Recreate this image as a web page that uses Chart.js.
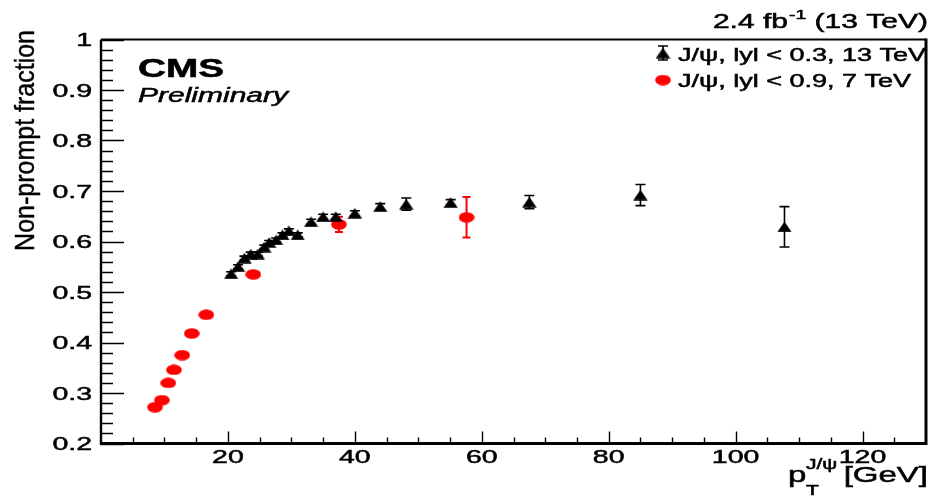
<!DOCTYPE html>
<html>
<head>
<meta charset="utf-8">
<script src="https://cdn.jsdelivr.net/npm/chart.js@4/dist/chart.umd.min.js"></script>
<style>
  html, body { margin: 0; padding: 0; background: #fff; }
  #wrap { width: 934px; height: 496px; position: relative; }
</style>
</head>
<body>
<div id="wrap"><canvas id="fraction"></canvas></div>
<script>
// J/psi non-prompt fraction vs pT
const pt13 = [20.5, 21.6, 22.6, 23.6, 24.7, 25.7, 26.5, 27.6, 28.6, 29.6, 31.0, 33.1, 35.0, 37.0, 40.0, 44.0, 48.1, 55.1, 67.5, 85.0, 107.7];
const frac13 = [0.536, 0.550, 0.567, 0.575, 0.575, 0.589, 0.598, 0.603, 0.613, 0.621, 0.613, 0.639, 0.649, 0.649, 0.656, 0.669, 0.674, 0.677, 0.678, 0.692, 0.629];
const err13 = [0.004, 0.004, 0.004, 0.004, 0.004, 0.004, 0.004, 0.004, 0.004, 0.004, 0.004, 0.005, 0.005, 0.005, 0.005, 0.006, 0.012, 0.006, 0.013, 0.021, 0.040];

const pt7 = [8.5, 9.6, 10.6, 11.5, 12.8, 14.3, 16.6, 24.0, 37.5, 57.6];
const frac7 = [0.272, 0.286, 0.320, 0.346, 0.375, 0.418, 0.455, 0.535, 0.634, 0.648];
const err7 = [0.003, 0.003, 0.003, 0.003, 0.003, 0.004, 0.004, 0.005, 0.015, 0.040];

const label13 = 'J/\u03c8, lyl < 0.3, 13 TeV';
const label7 = 'J/\u03c8, lyl < 0.9, 7 TeV';

const SX = 1.5;          // horizontal text stretch
const FONT = '"Liberation Sans", Arial, Helvetica, sans-serif';

// marker images
function triangleMarker() {
  const c = document.createElement('canvas');
  c.width = 15; c.height = 11;
  const g = c.getContext('2d');
  g.fillStyle = '#000';
  g.beginPath();
  g.moveTo(0.3, 10.7); g.lineTo(7.5, 0.3); g.lineTo(14.7, 10.7);
  g.closePath(); g.fill();
  return c;
}
function ellipseMarker() {
  const c = document.createElement('canvas');
  c.width = 16; c.height = 11;
  const g = c.getContext('2d');
  g.fillStyle = '#ff0000';
  g.beginPath();
  g.ellipse(8, 5.5, 7.8, 5.3, 0, 0, Math.PI * 2);
  g.fill();
  return c;
}
const triImg = triangleMarker();
const dotImg = ellipseMarker();

// text stretched horizontally, with a light outline for weight
function sText(ctx, str, x, y, align, font, sx) {
  ctx.save();
  ctx.font = font;
  ctx.textBaseline = 'alphabetic';
  ctx.textAlign = 'left';
  const w = ctx.measureText(str).width * sx;
  const x0 = align === 'right' ? x - w : align === 'center' ? x - w / 2 : x;
  ctx.translate(x0, y);
  ctx.scale(sx, 1);
  ctx.fillText(str, 0, 0);
  ctx.lineWidth = 0.5;
  ctx.strokeStyle = ctx.fillStyle;
  ctx.strokeText(str, 0, 0);
  ctx.restore();
  return w;
}

function drawErrBar(ctx, x, y0, y1, color, lw, cap) {
  ctx.strokeStyle = color;
  ctx.lineWidth = lw;
  ctx.beginPath();
  ctx.moveTo(x, y0); ctx.lineTo(x, y1);
  ctx.moveTo(x - cap / 2, y0); ctx.lineTo(x + cap / 2, y0);
  ctx.moveTo(x - cap / 2, y1); ctx.lineTo(x + cap / 2, y1);
  ctx.stroke();
}

const errorBars = {
  id: 'errorBars',
  beforeDatasetsDraw(chart) {
    const { ctx, scales: { x, y } } = chart;
    ctx.save();
    pt13.forEach((p, i) => {
      drawErrBar(ctx, x.getPixelForValue(p), y.getPixelForValue(frac13[i] + err13[i]),
        y.getPixelForValue(frac13[i] - err13[i]), '#000', 1.6, 10);
    });
    pt7.forEach((p, i) => {
      drawErrBar(ctx, x.getPixelForValue(p), y.getPixelForValue(frac7[i] + err7[i]),
        y.getPixelForValue(frac7[i] - err7[i]), '#ff0000', 2, 8);
    });
    ctx.restore();
  }
};

const frameAndText = {
  id: 'frameAndText',
  afterDraw(chart) {
    const { ctx, chartArea: a, scales: { x, y } } = chart;
    ctx.save();
    ctx.fillStyle = '#000';
    ctx.strokeStyle = '#000';

    // inward ticks
    ctx.lineWidth = 1.4;
    ctx.beginPath();
    for (let k = 10; k <= 50; k++) {
      const v = k / 50;
      const py = Math.round(y.getPixelForValue(v)) + 0.5;
      const len = k % 5 === 0 ? 23 : 12;
      ctx.moveTo(a.left, py); ctx.lineTo(a.left + len, py);
    }
    for (let v = 5; v < 130; v += 5) {
      const px = Math.round(x.getPixelForValue(v)) + 0.5;
      const len = v % 20 === 0 ? 12 : 6;
      ctx.moveTo(px, a.bottom); ctx.lineTo(px, a.bottom - len);
    }
    ctx.stroke();

    // frame
    ctx.lineWidth = 2.4;
    ctx.beginPath(); ctx.moveTo(a.left, a.top); ctx.lineTo(a.left, a.bottom + 1); ctx.stroke();
    ctx.lineWidth = 3;
    ctx.beginPath(); ctx.moveTo(a.left - 1, a.bottom); ctx.lineTo(a.right, a.bottom); ctx.stroke();
    ctx.lineWidth = 2;
    ctx.beginPath(); ctx.moveTo(a.left, a.top); ctx.lineTo(a.right, a.top); ctx.stroke();
    ctx.lineWidth = 3;
    ctx.beginPath(); ctx.moveTo(a.right, a.top - 1); ctx.lineTo(a.right, a.bottom + 1.5); ctx.stroke();

    // tick labels from the library's ticks
    const tf = '19px ' + FONT;
    y.ticks.forEach(t => {
      const py = y.getPixelForValue(t.value);
      sText(ctx, t.label, 92, py + 6.8, 'right', tf, SX);
    });
    x.ticks.forEach(t => {
      if (!t.label) return;
      const px = x.getPixelForValue(t.value);
      sText(ctx, t.label, px, 463, 'center', tf, SX);
    });

    // axis titles
    const xf = '22px ' + FONT, sf = '14px ' + FONT;
    sText(ctx, '[GeV]', 928, 482, 'right', xf, SX);
    sText(ctx, 'p', 788, 482, 'left', xf, SX);
    sText(ctx, 'J/\u03c8', 806, 469, 'left', sf, SX);
    sText(ctx, 'T', 806, 495, 'left', sf, SX);

    ctx.save();
    ctx.translate(34, 30);
    ctx.rotate(-Math.PI / 2);
    ctx.scale(1, 1.1);
    ctx.font = '25px ' + FONT;
    ctx.textAlign = 'right';
    ctx.textBaseline = 'alphabetic';
    ctx.fillText('Non-prompt fraction', 0, 0);
    ctx.lineWidth = 0.4;
    ctx.strokeText('Non-prompt fraction', 0, 0);
    ctx.restore();

    // luminosity label
    const lf = '20px ' + FONT, lsf = '13px ' + FONT;
    let right = 928;
    right -= sText(ctx, ' (13 TeV)', right, 28, 'right', lf, SX);
    right -= sText(ctx, '-1', right, 19, 'right', lsf, SX);
    sText(ctx, '2.4 fb', right - 1, 28, 'right', lf, SX);

    // CMS label
    sText(ctx, 'CMS', 138, 77, 'left', 'bold 25px ' + FONT, 1.55);
    sText(ctx, 'Preliminary', 138, 102, 'left', 'italic 20px ' + FONT, SX);

    // legend
    const gf = '18px ' + FONT;
    drawErrBar(ctx, 663, 46, 60, '#000', 1.6, 10);
    ctx.drawImage(triImg, 663 - 7.5, 53 - 5.5);
    sText(ctx, label13, 678, 61, 'left', gf, SX);
    ctx.drawImage(dotImg, 663 - 8, 80 - 5.5);
    sText(ctx, label7, 678, 87, 'left', gf, SX);

    ctx.restore();
  }
};

new Chart(document.getElementById('fraction'), {
  type: 'scatter',
  data: {
    datasets: [
      {
        label: label13,
        data: pt13.map((p, i) => ({ x: p, y: frac13[i] })),
        pointStyle: triImg,
        pointRadius: 7
      },
      {
        label: label7,
        data: pt7.map((p, i) => ({ x: p, y: frac7[i] })),
        pointStyle: dotImg,
        pointRadius: 7
      }
    ]
  },
  options: {
    responsive: true,
    maintainAspectRatio: false,
    animation: false,
    events: [],
    layout: { padding: { top: 39.5, right: 3, left: 0, bottom: 0 } },
    plugins: { legend: { display: false }, tooltip: { enabled: false } },
    scales: {
      x: {
        type: 'linear',
        min: 0, max: 130,
        grid: { display: false },
        border: { display: false },
        ticks: {
          display: false,
          stepSize: 20,
          callback: v => (v > 0 && v < 130 && v % 20 === 0) ? String(v) : ''
        },
        afterFit: s => { s.height = 52.5; }
      },
      y: {
        type: 'linear',
        min: 0.2, max: 1,
        grid: { display: false },
        border: { display: false },
        ticks: {
          display: false,
          stepSize: 0.1,
          callback: v => Math.abs(v - 1) < 1e-9 ? '1' : v.toFixed(1)
        },
        afterFit: s => { s.width = 101; }
      }
    }
  },
  plugins: [errorBars, frameAndText]
});
</script>
</body>
</html>
